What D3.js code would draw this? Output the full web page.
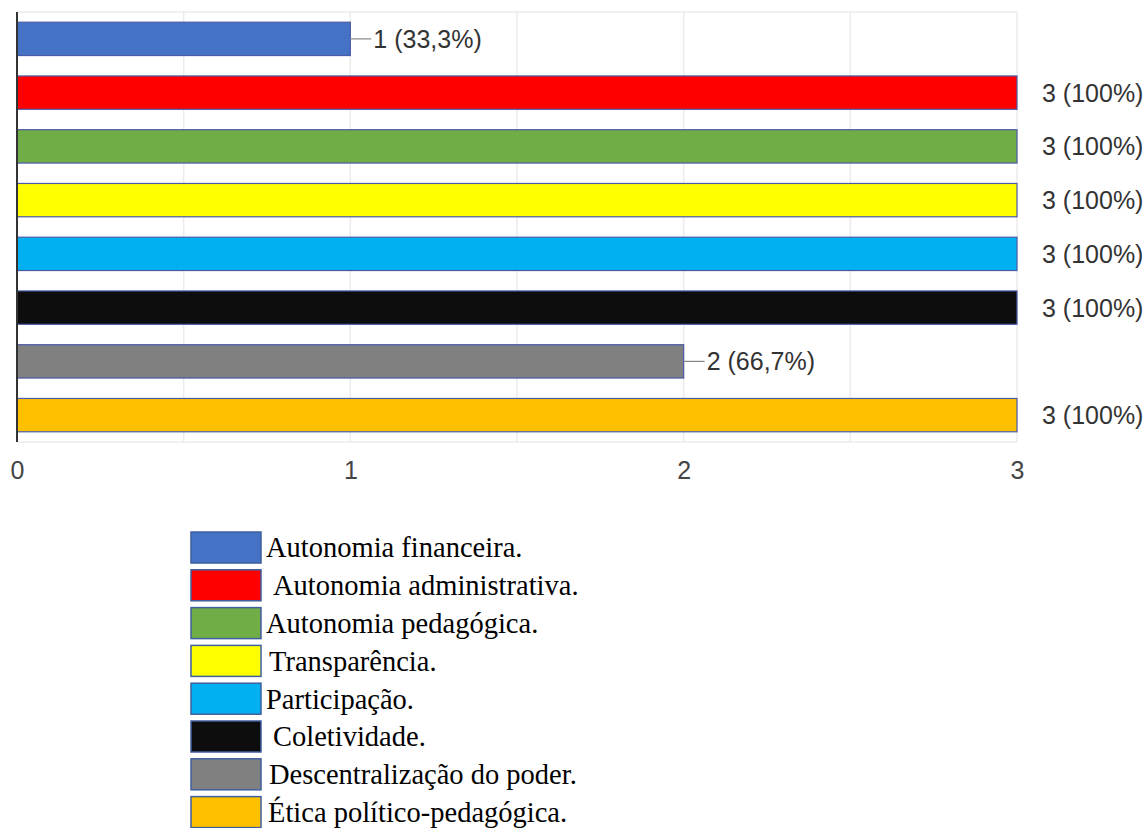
<!DOCTYPE html>
<html><head><meta charset="utf-8">
<script src="https://cdn.jsdelivr.net/npm/d3@7"></script>
<style>body{margin:0;background:#fff;}svg{display:block;}</style>
</head><body>
<svg id="c" width="1147" height="828"></svg>
<script>
const categories = ["Autonomia financeira.","Autonomia administrativa.","Autonomia pedagógica.","Transparência.","Participação.","Coletividade.","Descentralização do poder.","Ética político-pedagógica."];
const values = [1,3,3,3,3,3,2,3];
const labels = ["1 (33,3%)","3 (100%)","3 (100%)","3 (100%)","3 (100%)","3 (100%)","2 (66,7%)","3 (100%)"];
const colors = ["#4472c4","#ff0000","#70ad47","#ffff00","#00b0f0","#0d0d0d","#808080","#ffc000"];
const tickValues = [0,1,2,3];
const gridValues = [0,0.5,1,1.5,2,2.5,3];
const legendOffsets = [0,7,0,3,0,7,3,2];

const svg = d3.select("#c");
const x = d3.scaleLinear().domain([0,3]).range([17,1017]);
const y = d3.scaleBand().domain(d3.range(categories.length)).range([12,442]).paddingInner(0.38).paddingOuter(0.19);
const sans = "'Liberation Sans', Arial, sans-serif";

// gridlines
svg.append("g").selectAll("line").data(gridValues).join("line")
  .attr("x1",d=>x(d)).attr("x2",d=>x(d)).attr("y1",12).attr("y2",442)
  .attr("stroke","#ebebeb").attr("stroke-width",1.5);
svg.append("line").attr("x1",17).attr("x2",1017).attr("y1",12).attr("y2",12).attr("stroke","#ebebeb").attr("stroke-width",1.5);
svg.append("line").attr("x1",17).attr("x2",1017).attr("y1",442).attr("y2",442).attr("stroke","#ebebeb").attr("stroke-width",1.5);

// bars
svg.append("g").selectAll("rect").data(values).join("rect")
  .attr("x",x(0)).attr("y",(d,i)=>y(i)).attr("width",d=>x(d)-x(0)).attr("height",y.bandwidth())
  .attr("fill",(d,i)=>colors[i]).attr("stroke","#4a5aa8").attr("stroke-width",1.2);

// value labels
const lab = svg.append("g");
values.forEach((v,i)=>{
  const cy = y(i)+y.bandwidth()/2;
  if (v < 3) {
    lab.append("line").attr("x1",x(v)).attr("x2",x(v)+21).attr("y1",cy).attr("y2",cy).attr("stroke","#888").attr("stroke-width",1.2);
    lab.append("text").attr("x",x(v)+23).attr("y",cy).attr("dy","0.36em").text(labels[i])
      .attr("font-family",sans).attr("font-size",25).attr("fill","#333");
  } else {
    lab.append("text").attr("x",x(v)+25).attr("y",cy).attr("dy","0.36em").text(labels[i])
      .attr("font-family",sans).attr("font-size",25).attr("fill","#333");
  }
});

// y axis line
svg.append("line").attr("x1",17).attr("x2",17).attr("y1",12).attr("y2",442).attr("stroke","#333").attr("stroke-width",2);

// x axis
const xa = svg.append("g").attr("transform","translate(0,442)")
  .call(d3.axisBottom(x).tickValues(tickValues).tickSize(0).tickPadding(19).tickFormat(d3.format("d")));
xa.select(".domain").remove();
xa.selectAll("text").attr("font-family",sans).attr("font-size",25).attr("fill","#444");

// legend
const leg = svg.append("g");
categories.forEach((c,i)=>{
  const ly = 532 + i*37.8;
  leg.append("rect").attr("x",191).attr("y",ly).attr("width",70).attr("height",31)
    .attr("fill",colors[i]).attr("stroke","#3f5f9f").attr("stroke-width",1.5);
  leg.append("text").attr("x",266+legendOffsets[i]).attr("y",ly+16).attr("dy","0.33em").text(c)
    .attr("font-family","'Liberation Serif', 'Times New Roman', serif").attr("font-size",28.5).attr("fill","#000");
});
</script>
</body></html>
